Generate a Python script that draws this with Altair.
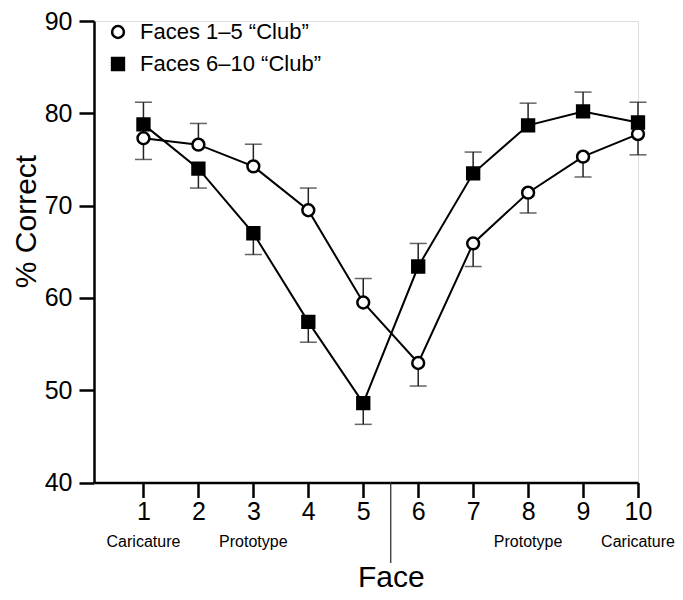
import altair as alt
import pandas as pd

faces = list(range(1, 11))
series_names = ["Faces 1–5 “Club”", "Faces 6–10 “Club”"]

club15 = [77.3, 76.6, 74.25, 69.5, 59.5, 52.95, 65.9, 71.4, 75.3, 77.75]
club15_err = [2.3, 2.3, 2.4, 2.4, 2.6, 2.5, 2.5, 2.2, 2.2, 2.25]
club15_dir = [-1, 1, 1, 1, 1, -1, -1, -1, -1, -1]

club610 = [78.8, 74.0, 67.0, 57.4, 48.6, 63.4, 73.5, 78.7, 80.2, 79.0]
club610_err = [2.4, 2.1, 2.3, 2.2, 2.3, 2.5, 2.3, 2.4, 2.1, 2.2]
club610_dir = [1, -1, -1, -1, -1, 1, 1, 1, 1, 1]

y_ticks = [40, 50, 60, 70, 80, 90]
sub_faces = [1, 3, 8, 10]
sub_labels = ["Caricature", "Prototype", "Prototype", "Caricature"]
divider_at = [5.5]

rows = []
for name, vals, errs, dirs in [
    (series_names[0], club15, club15_err, club15_dir),
    (series_names[1], club610, club610_err, club610_dir),
]:
    for f, v, e, d in zip(faces, vals, errs, dirs):
        rows.append({"face": f, "value": v, "series": name, "end": v + d * e})
df = pd.DataFrame(rows)
sub_df = pd.DataFrame({"face": sub_faces, "label": sub_labels})
div_df = pd.DataFrame({"face": divider_at})

FONT = "Liberation Sans"
W, H = 544, 461.5
X_MIN, X_MAX = 0.1, 10
PAD_L, PAD_T = 86, 13
PAD_R = 667 - PAD_L - W
PAD_B = 584 - PAD_T - H

x_enc = alt.X(
    "face:Q",
    scale=alt.Scale(domain=[X_MIN, X_MAX], nice=False, zero=False, padding=0),
    axis=alt.Axis(
        values=faces, title="Face", grid=False, format="d", labelFlush=False,
        tickSize=15, tickWidth=2.5, tickColor="black",
        domainWidth=2.5, domainColor="black",
        labelFontSize=25, labelFont=FONT, labelColor="black", labelPadding=2,
        titleFontSize=30, titleFont=FONT, titleFontWeight="normal", titleColor="black",
        titleX=(5.5 - X_MIN) * W / (X_MAX - X_MIN), titleY=103.5,
        titleBaseline="alphabetic", titleAlign="center",
    ),
)
y_enc = alt.Y(
    "value:Q",
    scale=alt.Scale(domain=[40, 90], nice=False, zero=False, padding=0),
    axis=alt.Axis(
        values=y_ticks, title="% Correct", grid=False, labelFlush=False,
        tickSize=15, tickWidth=2.5, tickColor="black",
        domainWidth=2.5, domainColor="black",
        labelFontSize=25, labelFont=FONT, labelColor="black", labelPadding=7,
        titleFontSize=30, titleFont=FONT, titleFontWeight="normal", titleColor="black",
        titleX=-59, titleY=200, titleBaseline="alphabetic", titleAlign="center",
    ),
)

err_rule = alt.Chart(df).mark_rule(color="#222", strokeWidth=1.5).encode(
    x=x_enc, y=y_enc, y2="end:Q"
)
err_cap = alt.Chart(df).mark_tick(
    color="#222", thickness=1.5, size=17, orient="horizontal"
).encode(x=x_enc, y=alt.Y("end:Q"))

lines = alt.Chart(df).mark_line(color="black", strokeWidth=2).encode(
    x=x_enc, y=y_enc, detail="series:N"
)

legend_cfg = dict(
    orient="none", legendX=13, legendY=0, title=None,
    labelFontSize=22, labelFont=FONT, labelColor="black", labelLimit=0,
    symbolSize=140, symbolStrokeWidth=2.5,
    labelOffset=11, rowPadding=10,
)

points = alt.Chart(df).mark_point(
    filled=True, strokeWidth=2.5, size=140, opacity=1
).encode(
    x=x_enc,
    y=y_enc,
    shape=alt.Shape(
        "series:N",
        scale=alt.Scale(domain=series_names, range=["circle", "square"]),
        legend=alt.Legend(**legend_cfg),
    ),
    fill=alt.Fill(
        "series:N",
        scale=alt.Scale(domain=series_names, range=["white", "black"]),
        legend=alt.Legend(**legend_cfg),
    ),
    stroke=alt.Stroke(
        "series:N",
        scale=alt.Scale(domain=series_names, range=["black", "black"]),
        legend=alt.Legend(**legend_cfg),
    ),
)

sub_text = alt.Chart(sub_df).mark_text(
    font=FONT, fontSize=16, color="black", baseline="alphabetic", align="center"
).encode(x=x_enc, y=alt.value(H + 64.5), text="label:N")

divider = alt.Chart(div_df).mark_rule(color="#333", strokeWidth=1.3).encode(
    x=x_enc, y=alt.value(H), y2=alt.value(H + 80.5)
)

chart = alt.layer(err_rule, err_cap, lines, points, sub_text, divider).properties(
    width=W,
    height=H,
    autosize=alt.AutoSizeParams(type="none"),
    padding={"left": PAD_L, "top": PAD_T, "right": PAD_R, "bottom": PAD_B},
).configure_view(stroke=None).configure(background="white")

chart.save("out.html", embed_options={"renderer": "svg", "actions": False})
